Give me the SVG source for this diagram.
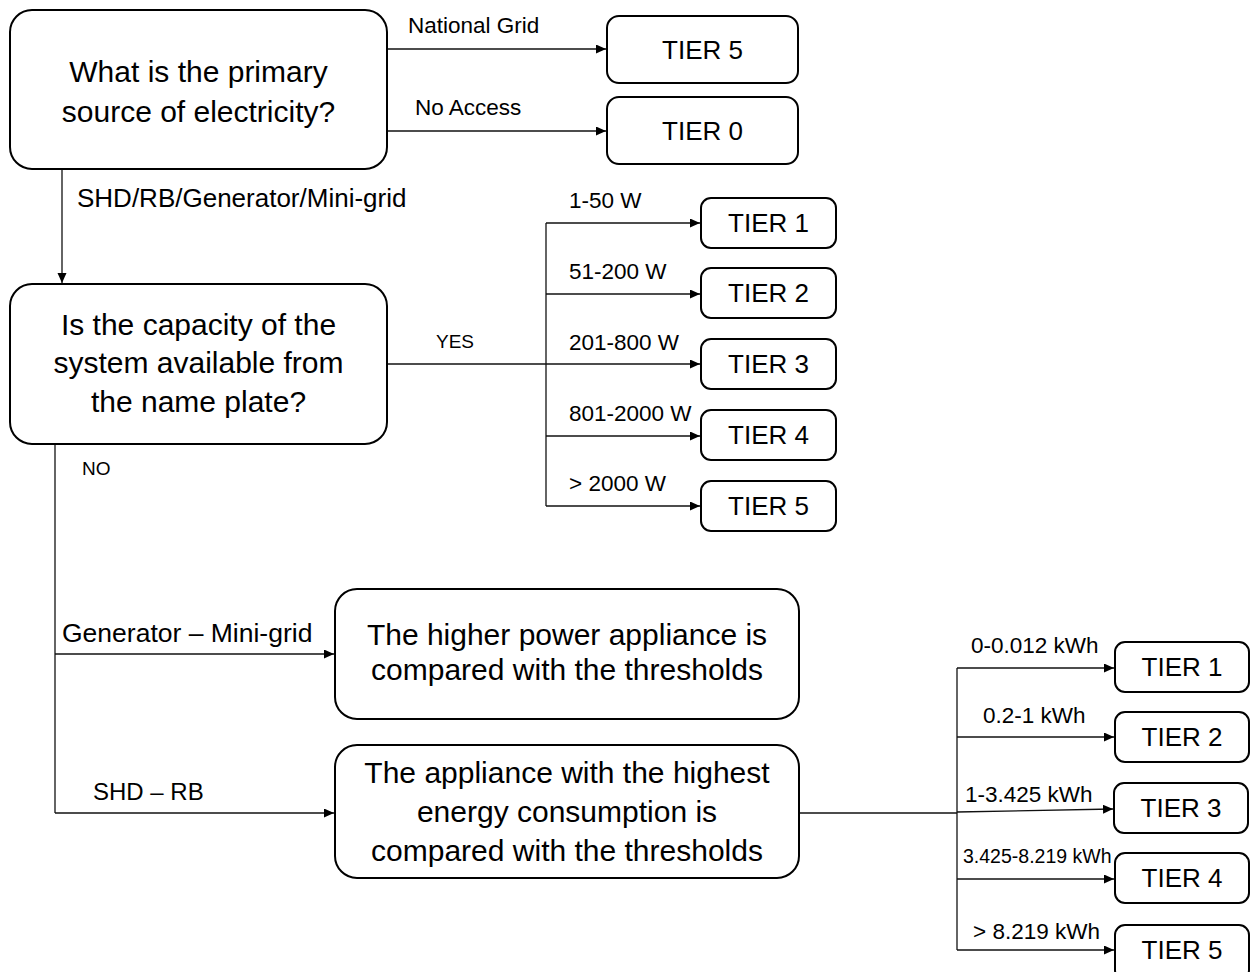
<svg xmlns="http://www.w3.org/2000/svg" width="1252" height="972" viewBox="0 0 1252 972">
  <style>
    .box { fill: #ffffff; stroke: #000000; stroke-width: 2; }
    .q { font-family: "Liberation Sans", Arial, sans-serif; font-size: 30px; fill: #000000; text-anchor: middle; }
    .tier { font-family: "Liberation Sans", Arial, sans-serif; font-size: 26px; fill: #000000; text-anchor: middle; }
    .lbl { font-family: "Liberation Sans", Arial, sans-serif; font-size: 22.5px; fill: #000000; }
    .lbl-big { font-family: "Liberation Sans", Arial, sans-serif; font-size: 26.5px; fill: #000000; }
    .lbl-sm { font-family: "Liberation Sans", Arial, sans-serif; font-size: 19px; fill: #000000; }
    .wire { fill: none; stroke: #111111; stroke-width: 1.3; }
    .arrow { marker-end: url(#head); }
  </style>
  <defs>
    <marker id="head" markerUnits="userSpaceOnUse" markerWidth="11" markerHeight="10" refX="10" refY="4.5" orient="auto">
      <path d="M0,0 L10,4.5 L0,9 Z" fill="#000000"/>
    </marker>
  </defs>

  <rect width="1252" height="972" fill="#ffffff"/>

  <!-- connectors -->
  <g id="connectors">
    <path class="wire arrow" d="M387,49 H606"/>
    <path class="wire arrow" d="M387,131 H606"/>
    <path class="wire arrow" d="M62,169 V283"/>

    <path class="wire arrow" d="M387,364 H700"/>
    <path class="wire" d="M546,223 V506"/>
    <path class="wire arrow" d="M546,223 H700"/>
    <path class="wire arrow" d="M546,294 H700"/>
    <path class="wire arrow" d="M546,436 H700"/>
    <path class="wire arrow" d="M546,506 H700"/>

    <path class="wire" d="M55,444 V813"/>
    <path class="wire arrow" d="M55,654 H334"/>
    <path class="wire arrow" d="M55,813 H334"/>

    <path class="wire" d="M799,813 H957"/>
    <path class="wire arrow" d="M957,812 L1113,809"/>
    <path class="wire" d="M957,668 V950"/>
    <path class="wire arrow" d="M957,668 H1114"/>
    <path class="wire arrow" d="M957,737 H1114"/>
    <path class="wire arrow" d="M957,879 H1114"/>
    <path class="wire arrow" d="M957,950 H1114"/>

    <text class="lbl" x="408" y="33">National Grid</text>
    <text class="lbl" x="415" y="115">No Access</text>
    <text class="lbl-big" x="77" y="207" style="font-size:26px">SHD/RB/Generator/Mini-grid</text>
    <text class="lbl-sm" x="436" y="348">YES</text>
    <text class="lbl" x="569" y="208">1-50 W</text>
    <text class="lbl" x="569" y="279">51-200 W</text>
    <text class="lbl" x="569" y="350">201-800 W</text>
    <text class="lbl" x="569" y="421">801-2000 W</text>
    <text class="lbl" x="569" y="491">&gt; 2000 W</text>
    <text class="lbl-sm" x="82" y="475">NO</text>
    <text class="lbl-big" x="62" y="642">Generator – Mini-grid</text>
    <text class="lbl-big" x="93" y="800" style="font-size:24px">SHD – RB</text>
    <text class="lbl" x="971" y="653">0-0.012 kWh</text>
    <text class="lbl" x="983" y="723">0.2-1 kWh</text>
    <text class="lbl" x="965" y="802">1-3.425 kWh</text>
    <text class="lbl-sm" x="963" y="863" style="font-size:19.5px">3.425-8.219 kWh</text>
    <text class="lbl" x="973" y="939">&gt; 8.219 kWh</text>
  </g>

  <!-- decision: primary source -->
  <g id="q-source">
    <rect class="box" x="10" y="10" width="377" height="159" rx="22"/>
    <text class="q" x="198.5" y="82">What is the primary</text>
    <text class="q" x="198.5" y="122">source of electricity?</text>
  </g>

  <g id="tier5-grid">
    <rect class="box" x="607" y="16" width="191" height="67" rx="12"/>
    <text class="tier" x="702.5" y="59">TIER 5</text>
  </g>
  <g id="tier0">
    <rect class="box" x="607" y="97" width="191" height="67" rx="12"/>
    <text class="tier" x="702.5" y="140">TIER 0</text>
  </g>

  <!-- decision: name plate capacity -->
  <g id="q-capacity">
    <rect class="box" x="10" y="284" width="377" height="160" rx="22"/>
    <text class="q" x="198.5" y="335">Is the capacity of the</text>
    <text class="q" x="198.5" y="373">system available from</text>
    <text class="q" x="198.5" y="412">the name plate?</text>
  </g>

  <g id="cap-tier1">
    <rect class="box" x="701" y="198" width="135" height="50" rx="10"/>
    <text class="tier" x="768.5" y="232">TIER 1</text>
  </g>
  <g id="cap-tier2">
    <rect class="box" x="701" y="268" width="135" height="50" rx="10"/>
    <text class="tier" x="768.5" y="302">TIER 2</text>
  </g>
  <g id="cap-tier3">
    <rect class="box" x="701" y="339" width="135" height="50" rx="10"/>
    <text class="tier" x="768.5" y="373">TIER 3</text>
  </g>
  <g id="cap-tier4">
    <rect class="box" x="701" y="410" width="135" height="50" rx="10"/>
    <text class="tier" x="768.5" y="444">TIER 4</text>
  </g>
  <g id="cap-tier5">
    <rect class="box" x="701" y="481" width="135" height="50" rx="10"/>
    <text class="tier" x="768.5" y="515">TIER 5</text>
  </g>

  <!-- appliance comparisons -->
  <g id="power-compare">
    <rect class="box" x="335" y="589" width="464" height="130" rx="22"/>
    <text class="q" x="567" y="645">The higher power appliance is</text>
    <text class="q" x="567" y="680">compared with the thresholds</text>
  </g>
  <g id="energy-compare">
    <rect class="box" x="335" y="745" width="464" height="133" rx="22"/>
    <text class="q" x="567" y="783">The appliance with the highest</text>
    <text class="q" x="567" y="822">energy consumption is</text>
    <text class="q" x="567" y="861">compared with the thresholds</text>
  </g>

  <g id="en-tier1">
    <rect class="box" x="1115" y="642" width="134" height="50" rx="10"/>
    <text class="tier" x="1182" y="676">TIER 1</text>
  </g>
  <g id="en-tier2">
    <rect class="box" x="1115" y="712" width="134" height="50" rx="10"/>
    <text class="tier" x="1182" y="746">TIER 2</text>
  </g>
  <g id="en-tier3">
    <rect class="box" x="1114" y="783" width="134" height="50" rx="10"/>
    <text class="tier" x="1181" y="817">TIER 3</text>
  </g>
  <g id="en-tier4">
    <rect class="box" x="1115" y="853" width="134" height="50" rx="10"/>
    <text class="tier" x="1182" y="887">TIER 4</text>
  </g>
  <g id="en-tier5">
    <rect class="box" x="1115" y="925" width="134" height="55" rx="10"/>
    <text class="tier" x="1182" y="959">TIER 5</text>
  </g>
</svg>
